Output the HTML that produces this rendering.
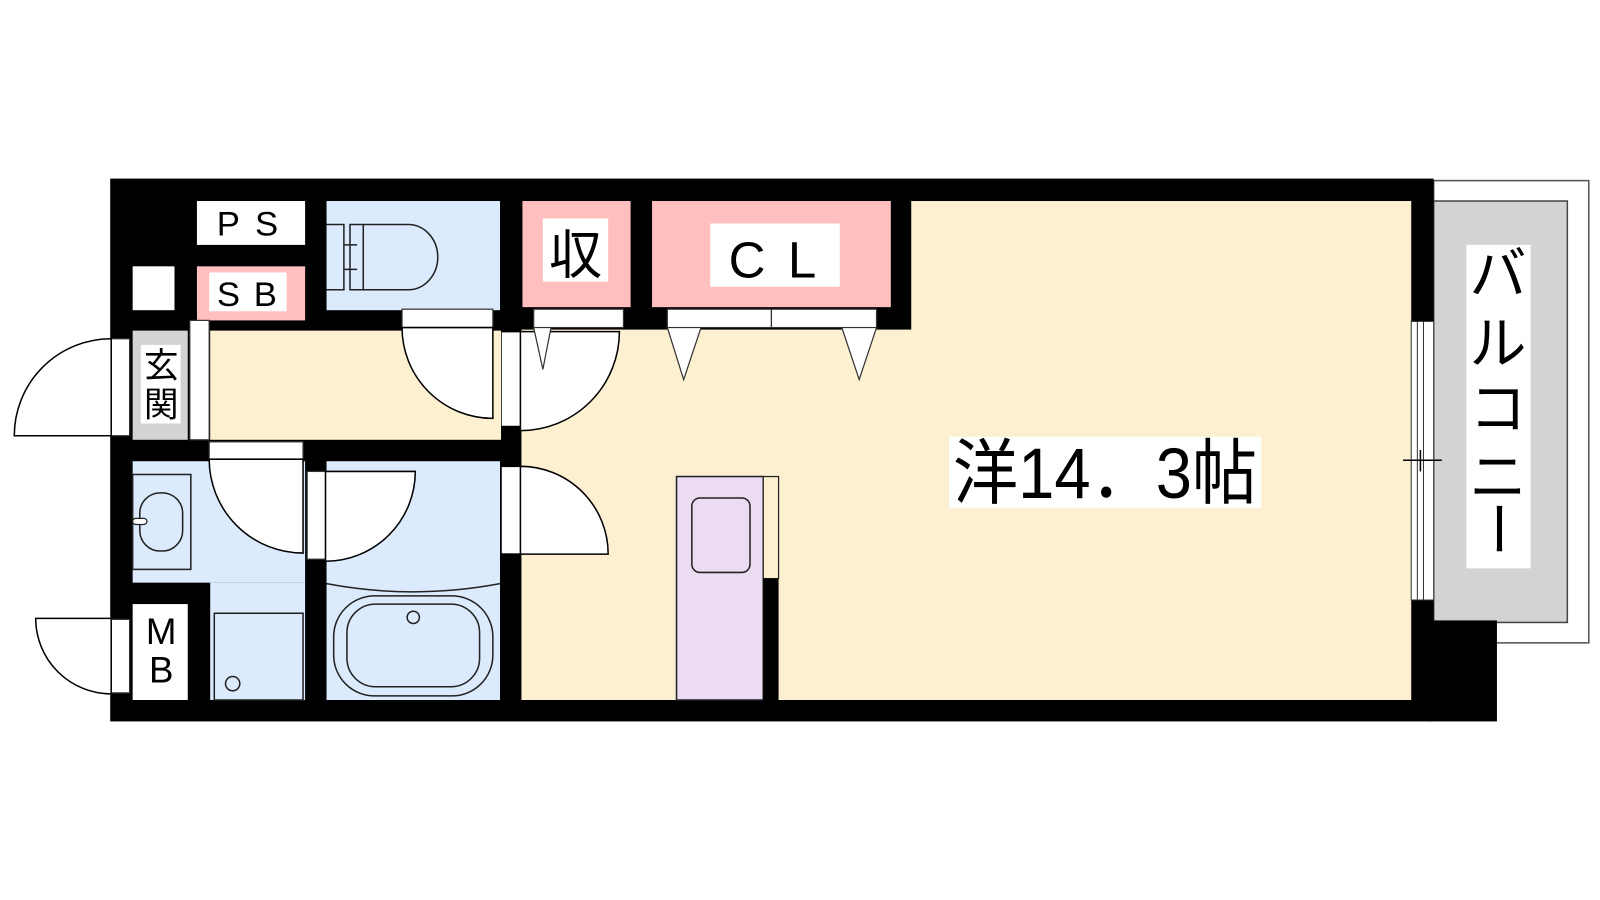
<!DOCTYPE html>
<html><head><meta charset="utf-8"><style>
html,body{margin:0;padding:0;background:#fff;width:1600px;height:900px;overflow:hidden}
svg{display:block}
text{font-family:"Liberation Sans","Noto Sans CJK JP",sans-serif;fill:#000}
</style></head><body>
<svg width="1600" height="900" viewBox="0 0 1568 882" xmlns="http://www.w3.org/2000/svg">
<!-- balcony -->
<rect x="1405" y="177" width="152" height="453" fill="#fff" stroke="#555" stroke-width="1.5"/>
<rect x="1405" y="197" width="131" height="413" fill="#d3d3d3" stroke="#444" stroke-width="1.5"/>
<rect x="1437" y="240" width="63" height="317" fill="#fff"/>
<g font-size="56" text-anchor="middle">
<text x="1468" y="288">バ</text>
<text x="1468" y="356">ル</text>
<text x="1468" y="420">コ</text>
<text x="1468" y="487">ニ</text>
<text transform="translate(1468,518) rotate(90)" x="0" y="20" font-size="56" text-anchor="middle">ー</text>
</g>
<!-- building black -->
<rect x="108" y="175" width="1297" height="532" fill="#000"/>
<rect x="1400" y="608" width="67" height="99" fill="#000"/>
<!-- main room -->
<rect x="511" y="323" width="872" height="363" fill="#fdf0d0"/>
<rect x="893" y="197" width="490" height="130" fill="#fdf0d0"/>
<!-- right window -->
<rect x="1383" y="315" width="22" height="273" fill="#fff" stroke="#333" stroke-width="1"/>
<line x1="1389" y1="315" x2="1389" y2="588" stroke="#333" stroke-width="1"/>
<line x1="1395" y1="315" x2="1395" y2="588" stroke="#333" stroke-width="1"/>
<line x1="1375" y1="451" x2="1413" y2="451" stroke="#000" stroke-width="1.5"/>
<line x1="1392" y1="441" x2="1392" y2="462" stroke="#000" stroke-width="1.5"/>
<!-- closets -->
<rect x="512" y="197" width="106" height="104" fill="#ffbfbf"/>
<rect x="532" y="214" width="64" height="62" fill="#fff"/>
<text x="564" y="268" font-size="52" text-anchor="middle">収</text>
<rect x="639" y="197" width="234" height="104" fill="#ffbfbf"/>
<rect x="696" y="219" width="127" height="62" fill="#fff"/>
<text x="759" y="272" font-size="50" text-anchor="middle" letter-spacing="4">C L</text>
<!-- doors to room -->
<g fill="#fff" stroke="#000" stroke-width="1.5">
<rect x="491" y="325" width="20" height="93"/>
<path d="M510,325 L607,325 A97,97 0 0 1 510,422 Z"/>
<rect x="491" y="457" width="20" height="86"/>
<path d="M510,457 A86,86 0 0 1 596,543 L510,543 Z"/>
</g>
<g fill="#fff" stroke="#333" stroke-width="1.2">
<rect x="523" y="303" width="88" height="18"/>
<rect x="654" y="303" width="102" height="18"/>
<rect x="756" y="303" width="103" height="18"/>
<polygon points="523,321 540,321 532,362"/>
<polygon points="654,321 687,321 670,372"/>
<polygon points="825,321 859,321 842,372"/>
</g>
<!-- kitchen -->
<rect x="663" y="467" width="85" height="219" fill="#ecdcf3" stroke="#222" stroke-width="1.5"/>
<rect x="678" y="488" width="57" height="73" rx="8" fill="none" stroke="#222" stroke-width="1.5"/>
<rect x="748" y="467" width="15" height="100" fill="#fdf0d0" stroke="#222" stroke-width="1.2"/>
<rect x="748" y="567" width="15" height="119" fill="#000"/>
<!-- PS / SB -->
<rect x="193" y="197" width="106" height="43" fill="#fff"/>
<text x="244" y="231" font-size="34" text-anchor="middle" letter-spacing="3">P S</text>
<rect x="130" y="261" width="41" height="43" fill="#fff"/>
<rect x="193" y="261" width="106" height="53" fill="#ffbfbf"/>
<rect x="205" y="267" width="76" height="38" fill="#fff"/>
<text x="243" y="300" font-size="34" text-anchor="middle" letter-spacing="2">S B</text>
<!-- toilet -->
<rect x="320" y="197" width="170" height="107" fill="#dbeafd"/>
<g fill="none" stroke="#222" stroke-width="1.5">
<path d="M320,220 L337,220 L337,284 L320,284"/>
<path d="M343,220 L400,220 A29,32 0 0 1 400,284 L343,284 Z"/>
<line x1="356" y1="220" x2="356" y2="284"/>
<path d="M337,240 L350,240 M337,264 L350,264"/>
</g>
<!-- hallway -->
<rect x="206" y="324" width="285" height="107" fill="#fdf0d0"/>
<rect x="394" y="303" width="89" height="18" fill="#fff" stroke="#333" stroke-width="1.2"/>
<path d="M394,321 A89,89 0 0 0 483,410 L483,321 Z" fill="#fff" stroke="#000" stroke-width="1.5"/>
<rect x="186" y="314" width="19" height="117" fill="#fff" stroke="#333" stroke-width="1.2"/>
<!-- genkan -->
<rect x="130" y="324" width="54" height="107" fill="#d3d3d3"/>
<rect x="138" y="338" width="39" height="77" fill="#fff"/>
<text x="158" y="370" font-size="34" text-anchor="middle">玄</text>
<text x="158" y="408" font-size="34" text-anchor="middle">関</text>
<rect x="109" y="332" width="18" height="95" fill="#fff" stroke="#333" stroke-width="1.2"/>
<path d="M14,427 A95,95 0 0 1 109,332 L109,427 Z" fill="#fff" stroke="#000" stroke-width="1.5"/>
<!-- washroom -->
<rect x="130" y="452" width="169" height="119" fill="#dbeafd"/>
<rect x="206" y="571" width="93" height="115" fill="#dbeafd"/>
<rect x="130" y="465" width="57" height="93" fill="none" stroke="#222" stroke-width="1.5"/>
<rect x="137" y="483" width="42" height="57" rx="20" fill="none" stroke="#222" stroke-width="1.5"/>
<rect x="130" y="508" width="14" height="6" rx="3" fill="#fff" stroke="#222" stroke-width="1.2"/>
<rect x="210" y="601" width="87" height="85" fill="none" stroke="#222" stroke-width="1.5"/>
<circle cx="228" cy="670" r="7" fill="none" stroke="#222" stroke-width="1.5"/>
<rect x="205" y="433" width="92" height="17" fill="#fff" stroke="#333" stroke-width="1.2"/>
<path d="M205,450 A92,92 0 0 0 297,542 L297,450 Z" fill="#fff" stroke="#000" stroke-width="1.5"/>
<!-- MB -->
<rect x="130" y="592" width="54" height="94" fill="#fff"/>
<text x="158" y="631" font-size="36" text-anchor="middle">M</text>
<text x="158" y="669" font-size="36" text-anchor="middle">B</text>
<rect x="109" y="607" width="18" height="72" fill="#fff" stroke="#333" stroke-width="1.2"/>
<path d="M35,606 L109,606 L109,680 A74,74 0 0 1 35,606 Z" fill="#fff" stroke="#000" stroke-width="1.5"/>
<!-- bath -->
<rect x="320" y="452" width="170" height="234" fill="#dbeafd"/>
<rect x="301" y="462" width="18" height="86" fill="#fff" stroke="#333" stroke-width="1.2"/>
<path d="M319,462 L407,462 A88,88 0 0 1 319,550 Z" fill="#fff" stroke="#000" stroke-width="1.5"/>
<path d="M320,572 Q405,588 490,572" fill="none" stroke="#222" stroke-width="1.5"/>
<rect x="327" y="584" width="156" height="98" rx="40" fill="none" stroke="#222" stroke-width="1.5"/>
<rect x="340" y="592" width="130" height="81" rx="28" fill="none" stroke="#222" stroke-width="1.5"/>
<circle cx="405" cy="605" r="6" fill="none" stroke="#222" stroke-width="1.5"/>
<!-- main label -->
<rect x="930" y="428" width="306" height="70" fill="#fff"/>
<text x="934" y="488" font-size="70" textLength="298" lengthAdjust="spacingAndGlyphs">洋14．3帖</text>
</svg>
</body></html>
